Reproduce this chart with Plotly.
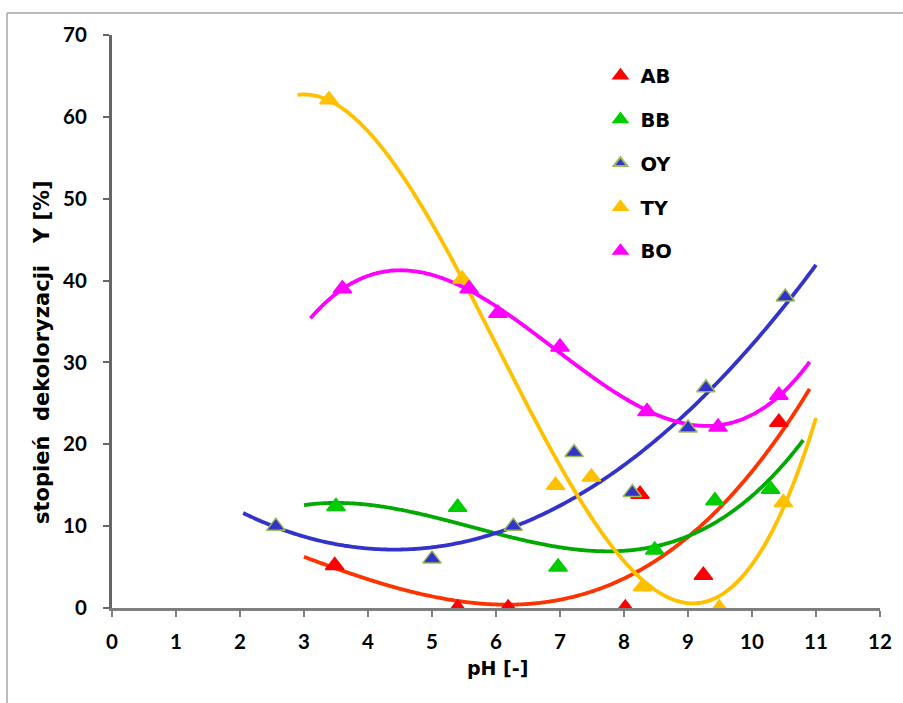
import numpy as np
import plotly.graph_objects as go

series_names = ["AB", "BB", "OY", "TY", "BO"]

ab_x = [3.48, 5.40, 6.19, 8.02, 8.25, 9.24, 10.42]
ab_y = [5.2, 0.0, 0.0, 0.0, 13.9, 4.0, 22.7]

bb_x = [3.50, 5.40, 6.97, 8.48, 9.42, 10.29]
bb_y = [12.4, 12.3, 5.0, 7.1, 13.1, 14.5]

oy_x = [2.56, 5.00, 6.27, 7.22, 8.13, 9.00, 9.28, 10.52]
oy_y = [10.0, 6.0, 10.0, 19.0, 14.1, 22.0, 26.9, 38.0]

ty_x = [3.39, 5.47, 6.93, 7.49, 8.29, 9.49, 10.49]
ty_y = [62.1, 40.2, 15.0, 16.0, 2.6, 0.0, 12.9]

bo_x = [3.60, 5.58, 6.03, 7.00, 8.36, 9.47, 10.42]
bo_y = [39.0, 39.0, 36.0, 31.9, 24.0, 22.1, 26.0]

# trendline ranges (Excel polynomial trendlines with forecast)
trend_ranges = {"AB": (3.0, 10.9), "BB": (3.0, 10.8), "OY": (2.05, 11.0),
                "TY": (2.9, 11.0), "BO": (3.1, 10.9)}
trend_degree = {"AB": 3, "BB": 3, "OY": 2, "TY": 3, "BO": 3}

x_ticks = list(range(0, 13))
y_ticks = list(range(0, 71, 10))

data = {"AB": (ab_x, ab_y), "BB": (bb_x, bb_y), "OY": (oy_x, oy_y),
        "TY": (ty_x, ty_y), "BO": (bo_x, bo_y)}
marker_col = {"AB": "#FF0000", "BB": "#00CC00", "OY": "#3333CC", "TY": "#FFC000", "BO": "#FF00FF"}
marker_line = {"AB": "#FF0000", "BB": "#00CC00", "OY": "#9BBB59", "TY": "#FFC000", "BO": "#FF00FF"}
line_col = {"AB": "#FF3300", "BB": "#00AA00", "OY": "#3333CC", "TY": "#FFC000", "BO": "#FF00FF"}

fig = go.Figure()

# trendlines
for name in series_names:
    xs, ys = data[name]
    coef = np.polyfit(xs, ys, trend_degree[name])
    lo, hi = trend_ranges[name]
    tx = np.linspace(lo, hi, 200)
    ty = np.polyval(coef, tx)
    fig.add_trace(go.Scatter(x=tx, y=ty, mode="lines", showlegend=False,
                             line=dict(color=line_col[name], width=3.8, shape="spline"),
                             hoverinfo="skip"))

# markers
for name in series_names:
    xs, ys = data[name]
    fig.add_trace(go.Scatter(x=xs, y=ys, mode="markers", name=name, legendgroup=name,
                             marker=dict(symbol="triangle-up", size=16, color=marker_col[name],
                                         line=dict(color=marker_line[name], width=1.5))))

tick_fam = "Lato, 'Open Sans', sans-serif"
text_fam = "'DejaVu Sans', sans-serif"
NB = "\u00a0"

fig.update_layout(
    width=903, height=703,
    margin=dict(l=112, r=23, t=35, b=95),
    paper_bgcolor="white", plot_bgcolor="white",
    font=dict(family=text_fam, color="black"),
    showlegend=True,
    legend=dict(x=0.636, y=0.963, xanchor="left", yanchor="top",
                font=dict(size=19.5, family=text_fam, color="black", weight="bold"),
                tracegroupgap=15.5, itemsizing="constant", bgcolor="rgba(0,0,0,0)"),
    xaxis=dict(range=[0, 12], tickvals=x_ticks, showgrid=False, zeroline=False,
               showline=True, linecolor="#7F7F7F", linewidth=3,
               ticks="outside", ticklen=6, tickwidth=2, tickcolor="#7F7F7F",
               ticklabelstandoff=7,
               tickfont=dict(size=20.5, family=tick_fam, weight="bold", color="black")),
    yaxis=dict(range=[0, 70], tickvals=y_ticks, showgrid=False, zeroline=False,
               showline=True, linecolor="#666666", linewidth=3,
               ticks="outside", ticklen=6, tickwidth=2, tickcolor="#666666",
               ticklabelstandoff=12,
               tickfont=dict(size=20.5, family=tick_fam, weight="bold", color="black")),
    annotations=[
        dict(text="<b>pH [-]</b>", xref="paper", yref="paper", x=(497 - 112) / 768,
             y=-(668 - 608) / 573, xanchor="center", yanchor="middle", showarrow=False,
             font=dict(size=19, family=text_fam, color="black")),
        dict(text="<b>stopień" + NB * 2 + "dekoloryzacji" + NB * 3 + "Y [%]</b>",
             xref="paper", yref="paper",
             x=-(112 - 42) / 768, y=(608 - 352) / 573, textangle=-90,
             xanchor="center", yanchor="middle",
             showarrow=False, font=dict(size=21, family=text_fam, color="black")),
    ],
    shapes=[
        dict(type="line", xref="paper", yref="paper", x0=(7 - 112) / 768, x1=1.2,
             y0=(608 - 13) / 573, y1=(608 - 13) / 573, line=dict(color="#A6A6A6", width=1.5)),
        dict(type="line", xref="paper", yref="paper", x0=(7 - 112) / 768, x1=(7 - 112) / 768,
             y0=(608 - 13) / 573, y1=-0.3, line=dict(color="#A6A6A6", width=1.5)),
    ],
)

fig.write_html("out.html")
